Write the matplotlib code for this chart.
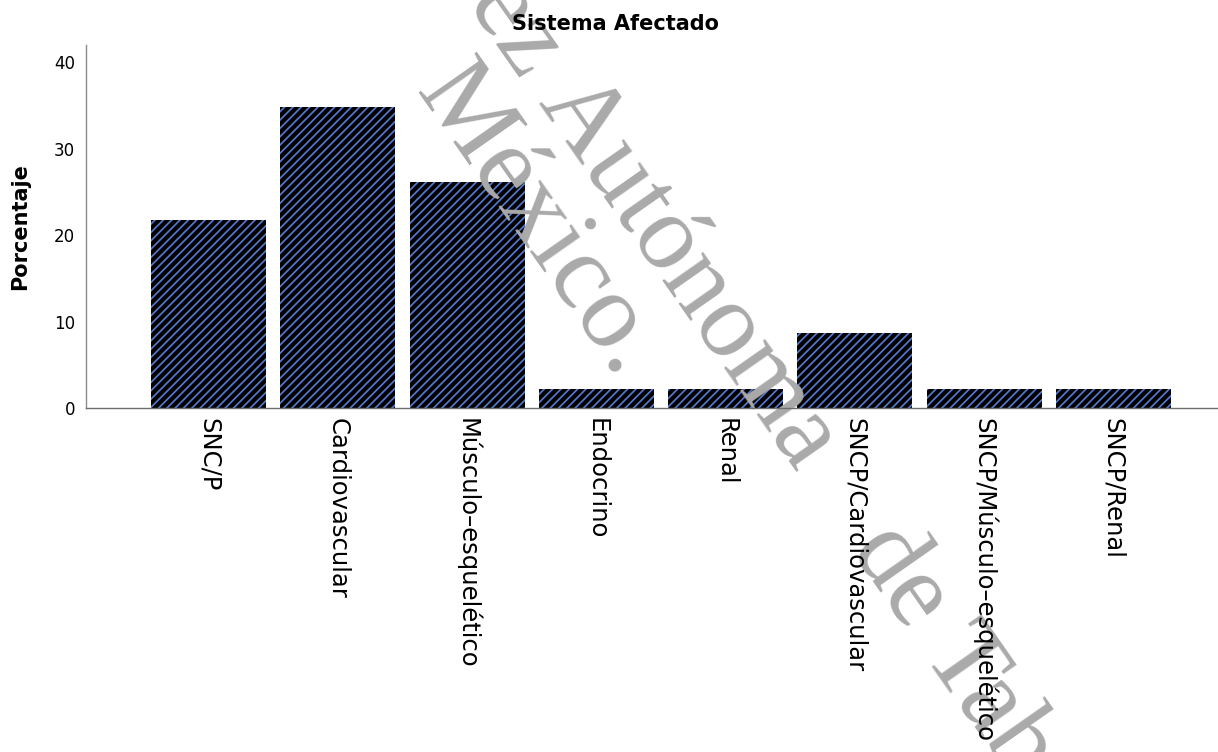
import matplotlib
matplotlib.use("Agg")
import matplotlib.pyplot as plt

categorias = ["SNC/P", "Cardiovascular", "Músculo–esquelético", "Endocrino", "Renal",
              "SNCP/Cardiovascular", "SNCP/Músculo–esquelético", "SNCP/Renal"]
porcentajes = [21.7, 34.8, 26.1, 2.2, 2.2, 8.7, 2.2, 2.2]
y_ticks = [0, 10, 20, 30, 40]

W, H = 1218, 752

plt.rcParams['font.family'] = ['DejaVu Sans']
plt.rcParams['hatch.linewidth'] = 1.25

fig = plt.figure(figsize=(W / 100, H / 100), dpi=100)
ax = fig.add_axes([86 / W, 1 - 408 / H, (W - 86) / W, (408 - 45) / H])

x = list(range(len(categorias)))
ax.bar(x, porcentajes, width=0.89, color='#000000', edgecolor='#5577cc',
       hatch='////', linewidth=0, zorder=1)

ax.set_xlim(-0.948, 7.81)
ax.set_ylim(0, 42)
ax.set_yticks(y_ticks)
ax.set_xticks(x)
ax.set_xticklabels(categorias, rotation=-90, fontsize=17.5)
ax.tick_params(axis='x', length=0, pad=7)
ax.tick_params(axis='y', length=0, pad=8, labelsize=12)

for s in ['top', 'right']:
    ax.spines[s].set_visible(False)
ax.spines['left'].set_color('#8c8c8c')
ax.spines['bottom'].set_color('#6e6e6e')
ax.spines['left'].set_linewidth(1.0)
ax.spines['bottom'].set_linewidth(1.0)

ax.set_ylabel('Porcentaje', fontsize=15, fontweight='bold')
ax.yaxis.set_label_coords(-0.049, 0.5)
fig.text(0.505, 1 - 24 / H, 'Sistema Afectado', ha='center', va='center',
         fontsize=15, fontweight='bold')

# marca de agua
ang = -55
wm = dict(rotation=ang, rotation_mode='anchor', va='baseline', fontsize=77,
          family='Liberation Serif', color='#aaaaaa', transform=fig.transFigure,
          zorder=1.2, clip_on=False)
ax.text(537 / W, 1 - 103 / H, "Autónoma", ha='left', **wm)
ax.text(850 / W, 1 - 549 / H, "de Tabasco", ha='left', **wm)
ax.text(521 / W, 1 - 80 / H, "Universidad Juárez", ha='right', **wm)
ax.text(415 / W, 1 - 92 / H, "México.", ha='left', **wm)

fig.savefig('out.png', dpi=100)
